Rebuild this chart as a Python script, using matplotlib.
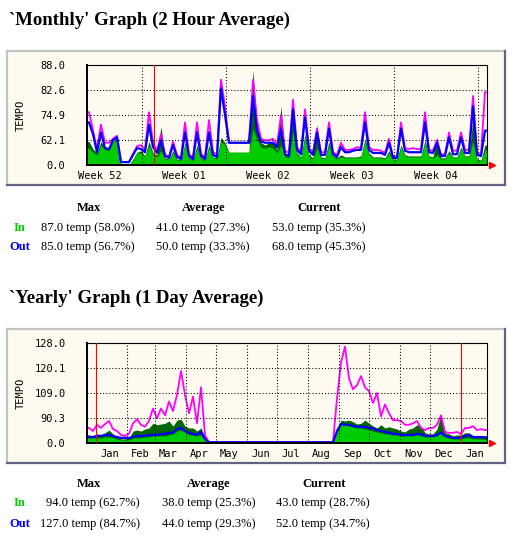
import matplotlib
matplotlib.use("Agg")
import matplotlib.pyplot as plt
import matplotlib.dates as mdates
import numpy as np
import pandas as pd
from matplotlib.patches import Rectangle
from matplotlib.lines import Line2D

W, H = 516, 540

# ---- monthly graph, 2 hour samples grouped in 8 h bins (temp) ----
mon_in_avg = [55, 50, 46, 58, 53, 52, 60, 64, 13, 0,
              0, 34, 49, 49, 42, 58, 46, 42, 52, 37,
              34, 49, 34, 31, 58, 37, 31, 55, 37, 31,
              56, 40, 37, 61, 58, 50, 50, 50, 50, 50,
              50, 69, 62, 56, 55, 56, 55, 49, 58, 42,
              40, 67, 46, 40, 64, 44, 37, 55, 40, 37,
              58, 42, 37, 42, 40, 40, 40, 40, 42, 61,
              46, 40, 40, 40, 37, 49, 34, 34, 56, 44,
              42, 42, 42, 42, 60, 42, 40, 46, 37, 37,
              49, 40, 40, 54, 42, 42, 61, 34, 31, 53]
mon_in_max = [61, 54, 49, 61, 55, 54, 61, 64, 13, 0,
              0, 37, 50, 52, 44, 61, 49, 46, 70, 40,
              37, 52, 37, 34, 60, 40, 34, 58, 40, 34,
              58, 42, 40, 64, 60, 50, 50, 50, 50, 50,
              50, 87, 71, 60, 58, 60, 61, 53, 78, 46,
              42, 79, 49, 42, 66, 46, 40, 71, 42, 40,
              61, 44, 40, 46, 42, 42, 42, 42, 44, 63,
              49, 42, 42, 42, 40, 52, 37, 37, 58, 46,
              44, 44, 44, 44, 62, 44, 42, 64, 40, 40,
              52, 42, 42, 56, 44, 44, 74, 37, 34, 58]
mon_out_avg = [72, 66, 50, 67, 55, 54, 62, 64, 26, 26,
               26, 46, 55, 54, 50, 71, 56, 49, 62, 44,
               40, 58, 42, 37, 67, 44, 37, 67, 44, 37,
               67, 46, 42, 83, 75, 60, 60, 60, 60, 60,
               60, 81, 68, 61, 60, 60, 60, 56, 69, 47,
               44, 77, 53, 47, 74, 52, 46, 67, 46, 46,
               69, 47, 42, 56, 50, 50, 52, 53, 53, 72,
               53, 49, 49, 49, 46, 60, 40, 40, 69, 52,
               50, 50, 50, 50, 72, 50, 49, 60, 44, 44,
               64, 47, 47, 64, 49, 49, 78, 46, 44, 68]
mon_out_max = [76, 68, 54, 71, 60, 60, 63, 65, 26, 26,
               26, 47, 57, 58, 53, 76, 60, 52, 66, 47,
               42, 61, 46, 40, 72, 47, 40, 72, 47, 42,
               73, 50, 47, 85, 78, 60, 60, 60, 60, 60,
               60, 85, 73, 63, 62, 62, 63, 58, 75, 52,
               49, 80, 56, 50, 77, 55, 50, 69, 50, 50,
               72, 50, 46, 60, 53, 53, 54, 56, 55, 76,
               56, 53, 53, 52, 49, 63, 44, 42, 72, 55,
               54, 55, 54, 54, 76, 53, 52, 62, 47, 47,
               67, 52, 52, 67, 53, 53, 81, 50, 47, 82]
mon_yticks = [0.0, 62.1, 74.9, 82.6, 88.0]
mon_labels = ["Week 52", "Week 01", "Week 02", "Week 03", "Week 04"]
mon_label_dates = ["2007-12-27 12:00", "2008-01-03 12:00", "2008-01-10 12:00",
                   "2008-01-17 12:00", "2008-01-24 12:00"]
mon_grid_dates = ["2007-12-31", "2008-01-07", "2008-01-14", "2008-01-21", "2008-01-28"]
mon_red_dates = ["2008-01-01"]
mon_table = [["87.0 temp (58.0%)", "41.0 temp (27.3%)", "53.0 temp (35.3%)"],
             ["85.0 temp (56.7%)", "50.0 temp (33.3%)", "68.0 temp (45.3%)"]]

# ---- yearly graph, 1 day samples grouped in 4 day bins (temp) ----
yr_in_avg = ([50, 50, 50, 50, 54, 54, 50, 45, 38, 38,
              38, 50, 50, 50, 54, 54, 58, 58, 58, 58,
              61, 64, 71, 73, 69, 61, 61, 58, 61, 38]
             + [0] * 32 +
             [71, 82, 82, 80, 79, 77, 77, 75,
              73, 71, 69, 67, 64, 64, 61, 61, 58, 58,
              58, 58, 61, 58, 54, 54, 54, 58, 71, 54,
              50, 45, 45, 45, 50, 50, 45, 45, 45, 43])
yr_in_max = ([61, 58, 64, 61, 67, 73, 64, 54, 45, 45,
              50, 71, 73, 71, 75, 77, 84, 82, 83, 84,
              87, 80, 88, 89, 80, 77, 77, 71, 77, 54]
             + [0] * 32 +
             [75, 88, 87, 88, 86, 83, 84, 88,
              84, 80, 77, 82, 77, 79, 77, 75, 71, 69,
              75, 77, 82, 80, 67, 64, 64, 75, 94, 67,
              64, 58, 61, 61, 67, 67, 58, 58, 58, 58])
yr_out_avg = ([54, 54, 58, 58, 61, 61, 58, 54, 50, 50,
               50, 54, 58, 58, 58, 61, 61, 61, 64, 64,
               67, 67, 75, 77, 71, 67, 64, 61, 69, 45]
              + [15] * 32 +
              [71, 83, 82, 82, 80, 79, 79, 79,
               77, 77, 73, 71, 69, 67, 64, 64, 61, 61,
               61, 61, 64, 64, 58, 58, 58, 61, 67, 58,
               54, 50, 50, 50, 58, 61, 54, 54, 54, 52])
yr_out_max = ([77, 71, 82, 77, 83, 87, 75, 71, 61, 58,
               64, 84, 89, 82, 79, 87, 99, 90, 99, 93,
               104, 97, 108, 119, 108, 95, 107, 84, 112, 61]
              + [15] * 32 +
              [106, 122, 127, 116, 111, 113, 117, 112,
               110, 103, 109, 92, 102, 95, 88, 88, 87, 82,
               82, 84, 87, 77, 73, 77, 77, 82, 93, 69,
               67, 67, 69, 64, 77, 77, 80, 73, 75, 73])
yr_yticks = [0.0, 90.3, 109.0, 120.1, 128.0]
yr_labels = ["Jan", "Feb", "Mar", "Apr", "May", "Jun", "Jul",
             "Aug", "Sep", "Oct", "Nov", "Dec", "Jan"]
yr_label_dates = ["2007-01-14", "2007-02-14", "2007-03-14", "2007-04-14",
                  "2007-05-14", "2007-06-14", "2007-07-14", "2007-08-14",
                  "2007-09-14", "2007-10-14", "2007-11-14", "2007-12-14",
                  "2008-01-14"]
yr_grid_dates = ["2007-02-01", "2007-03-01", "2007-04-01", "2007-05-01",
                 "2007-06-01", "2007-07-01", "2007-08-01", "2007-09-01",
                 "2007-10-01", "2007-11-01", "2007-12-01"]
yr_red_dates = ["2007-01-01", "2008-01-01"]
yr_table = [["94.0 temp (62.7%)", "38.0 temp (25.3%)", "43.0 temp (28.7%)"],
            ["127.0 temp (84.7%)", "44.0 temp (29.3%)", "52.0 temp (34.7%)"]]

C_IN = "#00cc00"
C_INMAX = "#006600"
C_OUT = "#0000ff"
C_OUTMAX = "#ff00ff"
BG = "#fffaf0"
SERIF = "Liberation Serif"
MONO = "DejaVu Sans Mono"


def fx(x):
    return x / W


def fy(y):
    return 1 - y / H


def dnum(dates):
    return mdates.date2num(pd.to_datetime(dates).to_pydatetime())


def exp_scale(vmax):
    k = np.log(101.0)

    def fwd(v):
        v = np.asarray(v, dtype=float)
        return (np.exp(k * v / vmax) - 1) / 100

    def inv(p):
        p = np.asarray(p, dtype=float)
        with np.errstate(invalid="ignore", divide="ignore"):
            return vmax * np.log1p(100 * p) / k

    return fwd, inv


def pad(vals):
    # repeat the end samples so the trace reaches both edges of the plot
    return np.r_[vals[0], vals, vals[-1]]


def draw_panel(fig, top, title, edges, g, d, b, m, yticks, lab_dates, labels,
               grid_dates, red_dates, table, col_right, col_center, rows_y):
    fig.text(fx(9), fy(top + 25), title, fontsize=13.5, fontweight="bold",
             family=SERIF, va="baseline", ha="left")

    # graph image frame
    x0, y0, x1, y1 = 7, top + 51, 505, top + 185
    fig.add_artist(Rectangle((fx(x0), fy(y1)), (x1 - x0) / W, (y1 - y0) / H,
                             transform=fig.transFigure, facecolor=BG,
                             edgecolor="none", zorder=0))
    for xs, ys, c in [((x0, x1), (y0, y0), "#c4c4c4"), ((x0, x0), (y0, y1), "#c4c4c4"),
                      ((x0, x1), (y1, y1), "#626282"), ((x1, x1), (y0, y1), "#626282")]:
        fig.add_artist(Line2D([fx(v) for v in xs], [fy(v) for v in ys],
                              transform=fig.transFigure, color=c, lw=1.6, zorder=1))

    ax = fig.add_axes([fx(87), fy(top + 165), 400 / W, 100 / H])
    ax.set_facecolor(BG)
    vmax = yticks[-1]
    ax.set_yscale("function", functions=exp_scale(vmax))

    xe = dnum(edges)
    xc = (xe[:-1] + xe[1:]) / 2
    x = np.r_[xe[0], xc, xe[-1]]
    ax.fill_between(x, 0, pad(d), color=C_INMAX, lw=0, zorder=2)
    ax.fill_between(x, 0, pad(g), color=C_IN, lw=0, zorder=2.1)
    ax.plot(x, pad(m), color=C_OUTMAX, lw=1.3, zorder=2.2)
    ax.plot(x, pad(b), color=C_OUT, lw=1.6, zorder=2.3)

    ax.set_xlim(xe[0], xe[-1])
    ax.set_ylim(0, vmax)

    dots = (0, (1, 2))
    ax.set_yticks(yticks)
    ax.set_yticklabels(["%.1f" % v for v in yticks], family=MONO, fontsize=7.5)
    ax.set_xticks(dnum(grid_dates))
    ax.set_xticklabels([])
    ax.set_xticks(dnum(lab_dates), minor=True)
    ax.set_xticklabels(labels, minor=True, family=MONO, fontsize=7.5)
    ax.tick_params(axis="both", which="both", length=0)
    ax.tick_params(axis="y", pad=15.5)
    ax.tick_params(axis="x", which="minor", pad=4.5)
    ax.set_axisbelow(False)
    ax.grid(True, which="major", color="black", linestyle=dots, lw=0.75)
    for rd in dnum(red_dates):
        ax.axvline(rd, color="red", lw=0.8, zorder=3)

    for side in ["top", "right"]:
        ax.spines[side].set_linewidth(0.8)
    for side in ["left", "bottom"]:
        ax.spines[side].set_linewidth(1.4)
    ax.plot([1.012], [0], marker=">", color="red", ms=4.5, transform=ax.transAxes,
            clip_on=False, zorder=4)

    fig.text(fx(20.5), fy(top + 115), "TEMPO", rotation=90, family=MONO,
             fontsize=7.5, ha="center", va="center")

    # legend table
    hy, iy, oy = rows_y
    for txt, cx in zip(["Max", "Average", "Current"], col_center):
        fig.text(fx(cx), fy(top + hy), txt, family=SERIF, fontweight="bold",
                 fontsize=9, ha="center", va="baseline")
    for row, (name, col, lx, yb) in enumerate([("In", C_IN, 19, iy), ("Out", C_OUT, 20, oy)]):
        fig.text(fx(lx), fy(top + yb), name, family=SERIF, fontweight="bold",
                 fontsize=9, color=col, ha="center", va="baseline")
        for txt, rx in zip(table[row], col_right):
            fig.text(fx(rx), fy(top + yb), txt, family=SERIF, fontsize=9,
                     ha="right", va="baseline")
    return ax


fig = plt.figure(figsize=(W / 100, H / 100), dpi=100)
fig.patch.set_facecolor("white")

mon_edges = pd.date_range("2007-12-26 09:36", periods=len(mon_in_avg) + 1, freq="8h")
yr_edges = pd.date_range("2006-12-22 17:00", periods=len(yr_in_avg) + 1, freq="4D")

draw_panel(fig, 0, "`Monthly' Graph (2 Hour Average)", mon_edges,
           mon_in_avg, mon_in_max, mon_out_avg, mon_out_max, mon_yticks,
           mon_label_dates, mon_labels, mon_grid_dates, mon_red_dates,
           mon_table, [135, 250, 365], [89, 204, 319], (211, 231, 250))
draw_panel(fig, 278, "`Yearly' Graph (1 Day Average)", yr_edges,
           yr_in_avg, yr_in_max, yr_out_avg, yr_out_max, yr_yticks,
           yr_label_dates, yr_labels, yr_grid_dates, yr_red_dates,
           yr_table, [140, 255, 370], [89, 209, 324], (209, 228, 249))

fig.savefig("out.png", dpi=100)
